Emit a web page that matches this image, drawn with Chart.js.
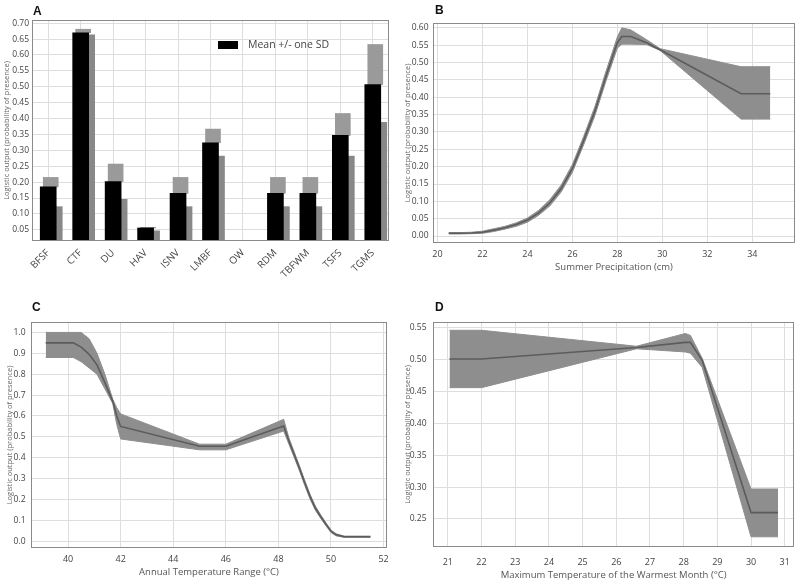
<!DOCTYPE html>
<html>
<head>
<meta charset="utf-8">
<script src="https://cdn.jsdelivr.net/npm/chart.js@4.4.0/dist/chart.umd.min.js"></script>
<style>
  body { margin: 0; background: #fff; }
  #wrap { position: relative; width: 800px; height: 582px; }
  canvas { position: absolute; }
  .tag { position: absolute; font: bold 12px "Liberation Sans", Arial, sans-serif; line-height: 1; color: #111; }
</style>
</head>
<body>
<div id="wrap">
  <canvas id="chartA" width="400" height="290" style="left:0;top:0"></canvas>
  <canvas id="chartB" width="400" height="290" style="left:400px;top:0"></canvas>
  <canvas id="chartC" width="400" height="292" style="left:0;top:290px"></canvas>
  <canvas id="chartD" width="400" height="292" style="left:400px;top:290px"></canvas>
  <div class="tag" style="left:33px;top:5px">A</div>
  <div class="tag" style="left:435px;top:4px">B</div>
  <div class="tag" style="left:32px;top:301px">C</div>
  <div class="tag" style="left:435px;top:301px">D</div>
</div>
<script>
// Panel A: mean, mean + SD, mean - SD per habitat class
const aLabels = ['BFSF', 'CTF', 'DU', 'HAV', 'ISNV', 'LMBF', 'OW', 'RDM', 'TBFWM', 'TSFS', 'TGMS'];
const aMean  = [0.185, 0.670, 0.202, 0.056, 0.165, 0.324, null, 0.165, 0.165, 0.347, 0.507];
const aUpper = [0.215, 0.681, 0.257, 0.058, 0.215, 0.367, null, 0.215, 0.215, 0.416, 0.633];
const aLower = [0.123, 0.663, 0.146, 0.047, 0.123, 0.282, null, 0.123, 0.123, 0.282, 0.388];

// Panel B: summer precipitation (cm)
const bX     = [20.5, 21, 21.5, 22, 22.5, 23, 23.5, 24, 24.5, 25, 25.5, 26, 26.5, 27, 27.5, 28, 28.2, 28.6, 29.3, 29.9, 33.5, 34.8];
const bMean  = [0.008, 0.008, 0.009, 0.011, 0.017, 0.024, 0.033, 0.046, 0.067, 0.096, 0.137, 0.195, 0.275, 0.360, 0.462, 0.558, 0.575, 0.575, 0.557, 0.537, 0.410, 0.410];
const bUpper = [0.010, 0.010, 0.011, 0.014, 0.021, 0.028, 0.038, 0.052, 0.074, 0.105, 0.147, 0.206, 0.287, 0.373, 0.476, 0.574, 0.600, 0.594, 0.566, 0.540, 0.488, 0.488];
const bLower = [0.006, 0.006, 0.007, 0.008, 0.013, 0.020, 0.028, 0.040, 0.060, 0.087, 0.127, 0.184, 0.263, 0.347, 0.448, 0.542, 0.553, 0.553, 0.552, 0.535, 0.337, 0.337];

// Panel C: annual temperature range (°C)
const cX     = [39.15, 40.2, 40.5, 40.8, 41.1, 41.4, 41.7, 41.85, 42.0, 45.0, 46.0, 48.2, 48.4, 48.6, 48.8, 49.0, 49.2, 49.4, 49.6, 49.8, 50.0, 50.2, 50.5, 51.5];
const cMean  = [0.950, 0.950, 0.930, 0.895, 0.845, 0.760, 0.670, 0.600, 0.550, 0.455, 0.455, 0.552, 0.480, 0.415, 0.350, 0.280, 0.215, 0.160, 0.120, 0.083, 0.048, 0.031, 0.022, 0.022];
const cUpper = [1.000, 1.000, 1.000, 0.970, 0.900, 0.800, 0.680, 0.640, 0.610, 0.465, 0.465, 0.584, 0.495, 0.428, 0.362, 0.292, 0.226, 0.170, 0.128, 0.090, 0.054, 0.036, 0.025, 0.025];
const cLower = [0.880, 0.880, 0.860, 0.830, 0.800, 0.730, 0.660, 0.560, 0.490, 0.438, 0.438, 0.528, 0.465, 0.402, 0.338, 0.268, 0.204, 0.150, 0.112, 0.076, 0.042, 0.026, 0.019, 0.019];

// Panel D: maximum temperature of the warmest month (°C)
const dX     = [21.05, 22.0, 26.6, 28.05, 28.2, 28.55, 30.0, 30.8];
const dMean  = [0.501, 0.501, 0.519, 0.527, 0.527, 0.499, 0.260, 0.260];
const dUpper = [0.546, 0.546, 0.521, 0.541, 0.538, 0.502, 0.297, 0.297];
const dLower = [0.456, 0.456, 0.517, 0.512, 0.510, 0.488, 0.222, 0.222];

const yTitle = 'Logistic output (probability of presence)';
const gridColor = '#dedede';
const tickColor = '#444';
const bandColor = '#8e8e8e';

Chart.defaults.font.family = '"Open Sans", sans-serif';
Chart.defaults.animation = false;
Chart.defaults.responsive = false;
Chart.defaults.plugins.legend.display = false;
Chart.defaults.plugins.tooltip.enabled = false;

// box round the plot area
const frame = {
  id: 'frame',
  afterDraw(chart) {
    const { ctx, chartArea: a } = chart;
    ctx.save();
    ctx.strokeStyle = '#8a8a8a';
    ctx.lineWidth = 1;
    ctx.strokeRect(Math.round(a.left) + 0.5, Math.round(a.top) + 0.5,
      Math.round(a.right - a.left) - 1, Math.round(a.bottom - a.top) - 1);
    ctx.restore();
  }
};

// nudge the overlapping bars sideways (pixels)
const barShift = {
  id: 'barShift',
  afterDatasetsUpdate(chart) {
    chart.data.datasets.forEach((ds, i) => {
      chart.getDatasetMeta(i).data.forEach(el => { el.x += ds.shift || 0; });
    });
  }
};

// legend key inside panel A
const meanKey = {
  id: 'meanKey',
  afterDatasetsDraw(chart) {
    const { ctx, chartArea: a } = chart;
    const x = a.left + 186, y = a.top + 25;
    ctx.save();
    ctx.fillStyle = '#000';
    ctx.fillRect(x, y - 4, 20, 8);
    ctx.fillStyle = '#444';
    ctx.font = '10.5px "Open Sans", sans-serif';
    ctx.textBaseline = 'middle';
    ctx.fillText(chart.data.datasets[0].label, x + 30, y);
    ctx.restore();
  }
};

function yAxis(min, max, step, digits, width, pad, titlePad) {
  return {
    min: min, max: max,
    afterFit: s => { s.width = width; },
    border: { display: false },
    grid: { color: gridColor, drawTicks: false },
    ticks: { stepSize: step, includeBounds: false, padding: pad, color: tickColor,
      font: { size: 8.5 }, callback: v => v.toFixed(digits) },
    title: { display: true, text: yTitle, color: '#666', font: { size: 7.5 },
      padding: { top: titlePad, bottom: 0 } }
  };
}

function xAxis(min, max, step, height, pad, title) {
  return {
    type: 'linear', min: min, max: max,
    afterFit: s => { s.height = height; },
    border: { display: false },
    grid: { color: gridColor, drawTicks: false },
    ticks: { stepSize: step, includeBounds: false, autoSkip: false, padding: pad,
      color: tickColor, font: { size: 9 }, maxRotation: 0 },
    title: { display: true, text: title, color: '#555', font: { size: 9.5 },
      padding: { top: 0, bottom: 0 } }
  };
}

function bandSets(xs, mean, upper, lower) {
  const pts = arr => xs.map((x, i) => ({ x: x, y: arr[i] }));
  return [
    { data: pts(mean), borderColor: '#5c5c5c', borderWidth: 1.6, pointRadius: 0, fill: false },
    { data: pts(upper), borderColor: bandColor, backgroundColor: bandColor, borderWidth: 1, pointRadius: 0, fill: '+1' },
    { data: pts(lower), borderColor: bandColor, borderWidth: 1, pointRadius: 0, fill: false }
  ];
}

// A
new Chart('chartA', {
  type: 'bar',
  data: {
    labels: aLabels,
    datasets: [
      { label: 'Mean +/- one SD', data: aMean, backgroundColor: '#000', barThickness: 16, grouped: false, shift: 0 },
      { data: aMean.map((m, i) => m == null ? null : [m, aUpper[i]]), backgroundColor: '#9a9a9a', barThickness: 15, grouped: false, shift: 2.5 },
      { data: aLower, backgroundColor: '#888', barThickness: 6, grouped: false, shift: 11 }
    ]
  },
  options: {
    layout: { padding: { left: 0, right: 11, top: 20, bottom: 0 } },
    scales: {
      x: {
        afterFit: s => { s.height = 49; },
        border: { display: false },
        grid: { color: gridColor, offset: false, drawTicks: false },
        ticks: { color: tickColor, font: { size: 10 }, minRotation: 45, maxRotation: 45, padding: 6, autoSkip: false }
      },
      y: yAxis(0.015, 0.71, 0.05, 2, 32, 3, 2)
    }
  },
  plugins: [barShift, meanKey, frame]
});

// B
new Chart('chartB', {
  type: 'line',
  data: { datasets: bandSets(bX, bMean, bUpper, bLower) },
  options: {
    layout: { padding: { left: 0, right: 5, top: 23, bottom: 17 } },
    scales: {
      x: xAxis(19.8, 35.9, 2, 30, 6, 'Summer Precipitation (cm)'),
      y: yAxis(-0.02, 0.614, 0.05, 2, 33, 4.5, 3)
    }
  },
  plugins: [frame]
});

// C
new Chart('chartC', {
  type: 'line',
  data: { datasets: bandSets(cX, cMean, cUpper, cLower) },
  options: {
    layout: { padding: { left: 0, right: 13, top: 32, bottom: 4 } },
    scales: {
      x: xAxis(38.59, 52.13, 2, 30, 6, 'Annual Temperature Range (°C)'),
      y: yAxis(-0.032, 1.05, 0.1, 1, 31, 5.5, 5)
    }
  },
  plugins: [frame]
});

// D
new Chart('chartD', {
  type: 'line',
  data: { datasets: bandSets(dX, dMean, dUpper, dLower) },
  options: {
    layout: { padding: { left: 0, right: 4, top: 32, bottom: 1 } },
    scales: {
      x: xAxis(20.56, 31.28, 1, 34, 10, 'Maximum Temperature of the Warmest Month (°C)'),
      y: yAxis(0.206, 0.559, 0.05, 2, 33, 6.5, 3)
    }
  },
  plugins: [frame]
});
</script>
</body>
</html>
